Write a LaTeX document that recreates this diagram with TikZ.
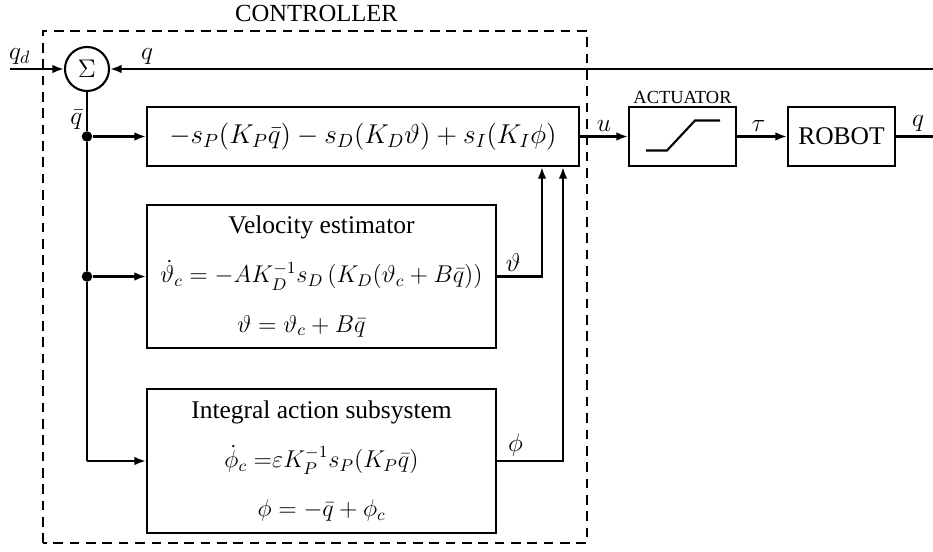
\RequirePackage{fix-cm}
\documentclass[tikz,border=0pt]{standalone}
\usepackage{amsmath,amssymb}
\usepackage[no-math]{fontspec}
\setmainfont{Liberation Serif}
\usetikzlibrary{positioning,arrows.meta,calc}
\newcommand{\bigtxt}{\fontsize{14.5}{17}\selectfont}
\newcommand{\eqtxt}{\fontsize{13.8}{16}\selectfont}

\begin{document}
\begin{tikzpicture}[
   blk/.style={draw,line width=1.2pt,minimum height=1.18cm,inner sep=2pt,font=\bigtxt},
   sysblk/.style={blk,minimum width=6.98cm,minimum height=2.87cm,align=center},
   wire/.style={line width=1.2pt},
   sig/.style={wire,-{Latex[length=2.3mm,width=1.7mm]}},
   lbl/.style={font=\bigtxt,inner sep=2pt},
   tap/.style={circle,fill,inner sep=0pt,minimum size=6pt}]
 \useasboundingbox (0,0) rectangle (18.66,11.04);
 % controller frame
 \draw[line width=1.2pt,dash pattern=on 5.5pt off 3.8pt] (0.86,0.18) rectangle (11.74,10.42);
 \node[font=\fontsize{14}{16}\selectfont] (ctrl) at (6.33,10.78) {CONTROLLER};
 % summing junction and blocks
 \node[draw,circle,line width=1.2pt,minimum size=0.88cm,inner sep=0pt,font=\bigtxt] (sum) at (1.74,9.66) {$\Sigma$};
 \node[blk,minimum width=8.64cm,font=\fontsize{15.5}{18}\selectfont] (law) at (7.26,8.31)
   {$-s_P(K_P\bar{q}) - s_D(K_D\vartheta) + s_I(K_I\phi)$};
 \node[sysblk] (vel) at (6.43,5.51)
   {Velocity estimator\\[11pt]
    \eqtxt $\dot{\vartheta}_c = -AK_D^{-1}s_D\,(K_D(\vartheta_c+B\bar{q}))$\\[11pt]
    \eqtxt $\vartheta = \vartheta_c + B\bar{q}$\hspace*{0.8cm}};
 \node[sysblk] (integ) at (6.43,1.82)
   {Integral action subsystem\\[11pt]
    \eqtxt $\dot{\phi}_c =\mkern-5mu\varepsilon K_P^{-1}s_P(K_P\bar{q})$\\[11pt]
    \eqtxt $\phi = -\bar{q} + \phi_c$};
 \node[blk,minimum width=2.14cm] (act) at (13.65,8.31) {};
 \node[font=\fontsize{10.5}{12}\selectfont,inner sep=1pt,above=0pt of act] (actlbl) {ACTUATOR};
 \node[blk,minimum width=2.14cm] (robot) at (16.83,8.31) {ROBOT};
 % saturation curve
 \draw[wire] ($(act.center)+(-0.73,-0.28)$) -- ++(0.42,0) -- ++(0.56,0.6) -- ++(0.5,0);
 % branch points and line ends
 \node[tap] (j1) at (sum |- law) {};
 \node[tap] (j2) at (sum |- vel) {};
 \coordinate (j3) at (sum |- integ);
 \coordinate (qdin) at (0.2,9.66);
 \coordinate (fbend) at (18.66,9.66);
 \coordinate (qout) at (18.66,8.31);
 \coordinate (vx) at (10.84,0);
 \coordinate (px) at (11.26,0);
 % signals
 \draw[sig] (qdin) -- node[lbl,above,pos=0.18] {$q_d$} (sum);
 \draw[sig] (fbend) -- node[lbl,above,pos=0.955] {$q$} (sum);
 \draw[wire] (sum) -- node[lbl,left,pos=0.72] {$\bar{q}$} (j1) -- (j2) -- (j3);
 \draw[sig] (j1) -- (law);
 \draw[sig] (j2) -- (vel);
 \draw[sig] (j3) -- (integ);
 \draw[sig] (vel.east) -| node[lbl,above,pos=0.18] {$\vartheta$} (vx |- law.south);
 \draw[sig] (integ.east) -| node[lbl,above,pos=0.14] {$\phi$} (px |- law.south);
 \draw[sig] (law) -- node[lbl,above] {$u$} (act);
 \draw[sig] (act) -- node[lbl,above,xshift=-2pt] {$\tau$} (robot);
 \draw[wire] (robot) -- node[lbl,above,xshift=2pt] {$q$} (qout);
\end{tikzpicture}
\end{document}
